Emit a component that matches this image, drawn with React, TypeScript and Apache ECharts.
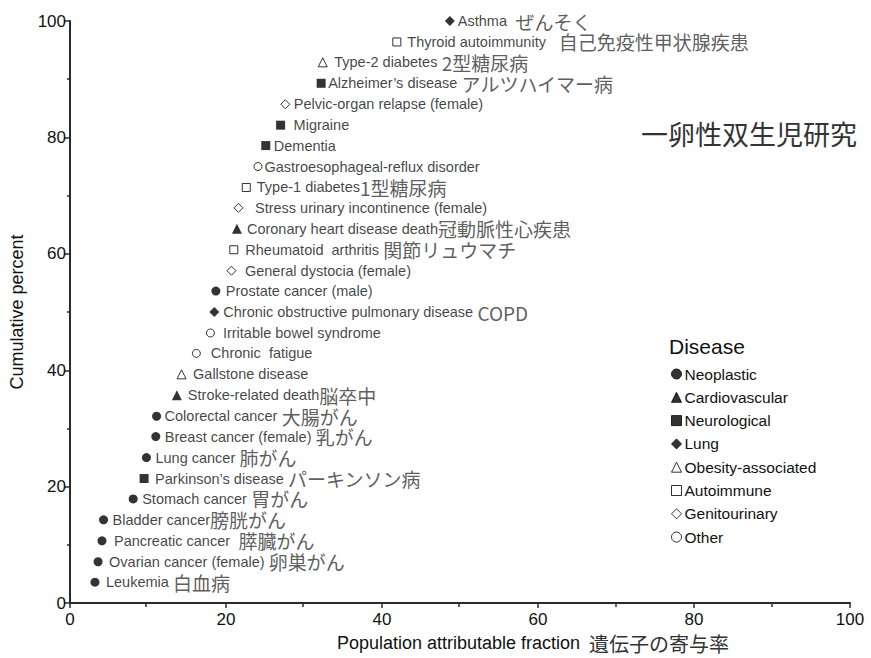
import React, { useEffect, useRef } from 'react';
import * as echarts from 'echarts';

// ---- Data ----
const groupNames = [
  'Neoplastic',
  'Cardiovascular',
  'Neurological',
  'Lung',
  'Obesity-associated',
  'Autoimmune',
  'Genitourinary',
  'Other',
];

const diseaseNames = [
  'Leukemia',
  'Ovarian cancer (female)',
  'Pancreatic cancer',
  'Bladder cancer',
  'Stomach cancer',
  'Parkinson’s disease',
  'Lung cancer',
  'Breast cancer (female)',
  'Colorectal cancer',
  'Stroke-related death',
  'Gallstone disease',
  'Chronic  fatigue',
  'Irritable bowel syndrome',
  'Chronic obstructive pulmonary disease',
  'Prostate cancer (male)',
  'General dystocia (female)',
  'Rheumatoid  arthritis',
  'Coronary heart disease death',
  'Stress urinary incontinence (female)',
  'Type-1 diabetes',
  'Gastroesophageal-reflux disorder',
  'Dementia',
  'Migraine',
  'Pelvic-organ relapse (female)',
  'Alzheimer’s disease',
  'Type-2 diabetes',
  'Thyroid autoimmunity',
  'Asthma',
];

const diseaseNamesJa = [
  ' 白血病',
  ' 卵巣がん',
  '  膵臓がん',
  '膀胱がん',
  ' 胃がん',
  ' パーキンソン病',
  ' 肺がん',
  ' 乳がん',
  ' 大腸がん',
  '脳卒中',
  '',
  '',
  '',
  ' COPD',
  '',
  '',
  ' 関節リュウマチ',
  '冠動脈性心疾患',
  '',
  '1型糖尿病',
  '',
  '',
  '',
  '',
  ' アルツハイマー病',
  ' 2型糖尿病',
  '   自己免疫性甲状腺疾患',
  '  ぜんそく',
];

// Population attributable fraction (%)
const attributableFraction = [
  3.2, 3.6, 4.1, 4.3, 8.1, 9.5, 9.8, 11.0, 11.1, 13.7,
  14.3, 16.2, 18.0, 18.5, 18.7, 20.7, 21.0, 21.4, 21.6, 22.6,
  24.1, 25.1, 27.0, 27.6, 32.2, 32.4, 41.9, 48.7,
];

// Cumulative percent (%)
const cumulativePercent = [
  3.6, 7.1, 10.7, 14.3, 17.9, 21.4, 25.0, 28.6, 32.1, 35.7,
  39.3, 42.9, 46.4, 50.0, 53.6, 57.1, 60.7, 64.3, 67.9, 71.4,
  75.0, 78.6, 82.1, 85.7, 89.3, 92.9, 96.4, 100.0,
];

// index into groupNames
const diseaseGroup = [
  0, 0, 0, 0, 0, 2, 0, 0, 0, 1,
  4, 7, 7, 3, 0, 6, 5, 1, 6, 5,
  7, 2, 2, 6, 2, 4, 5, 3,
];

const xTickInterval = 20;
const yTickInterval = 20;

// ---- Styles ----
const groupSymbols = ['circle', 'triangle', 'rect', 'diamond', 'triangle', 'rect', 'diamond', 'circle'];
const groupHollow = [false, false, false, false, true, true, true, true];
const groupSymbolSizes = [9, 10, 9, 10, 9, 8, 9, 8];
// distance (px) from marker centre to label start
const labelGapPx = [
  11, 11, 12, 9, 9, 11, 9, 9, 8, 11,
  11, 14, 12, 9, 10, 13, 11, 10, 16, 10,
  6, 8, 13, 8, 7, 11, 10, 8,
];

const EN_FONT = '"Liberation Sans", Arial, Helvetica, sans-serif';
const JA_FONT = '"Noto Sans CJK JP", "Noto Sans", sans-serif';
const AXIS_COLOR = '#2a2a2a';
const TEXT_COLOR = '#111';
const JA_COLOR = '#333';

export default function App() {
  const ref = useRef<HTMLDivElement>(null);

  useEffect(() => {
    document.body.style.margin = '0';
    if (!ref.current) return;
    const chart = echarts.init(ref.current, undefined, { renderer: 'svg' });

    const richLabel = {
      en: { fontSize: 14.5, fontFamily: EN_FONT, color: TEXT_COLOR, lineHeight: 17 },
      ja: { fontSize: 19, fontFamily: JA_FONT, color: JA_COLOR, lineHeight: 17 },
    };

    const series = groupNames.map((g, gi) => {
      const data = diseaseNames
        .map((name, i) => ({ name, i }))
        .filter((d) => diseaseGroup[d.i] === gi)
        .map((d) => ({
          name: d.name,
          value: [attributableFraction[d.i], cumulativePercent[d.i]],
          label: { distance: labelGapPx[d.i] - groupSymbolSizes[gi] / 2 },
        }));
      const hollow = groupHollow[gi];
      return {
        type: 'scatter',
        name: g,
        xAxisIndex: 0,
        yAxisIndex: 0,
        symbol: groupSymbols[gi],
        symbolSize: groupSymbolSizes[gi],
        itemStyle: hollow
          ? { color: '#fff', borderColor: '#000', borderWidth: 1 }
          : { color: '#000', borderColor: '#000', borderWidth: 0 },
        label: {
          show: true,
          position: 'right',
          lineHeight: 17,
          formatter: (p: any) => {
            const idx = diseaseNames.indexOf(p.name);
            const ja = diseaseNamesJa[idx];
            return `{en|${diseaseNames[idx]}}` + (ja ? `{ja|${ja}}` : '');
          },
          rich: richLabel,
        },
        emphasis: { disabled: true },
        data,
      };
    });

    const option: any = {
      animation: false,
      backgroundColor: '#fff',
      title: [
        {
          text: '一卵性双生児研究',
          left: 641,
          top: 120,
          padding: 0,
          textStyle: { fontSize: 27, fontFamily: JA_FONT, fontWeight: 'normal', color: JA_COLOR },
        },
        {
          text: 'Disease',
          left: 669,
          top: 336,
          padding: 0,
          textStyle: { fontSize: 21, fontFamily: EN_FONT, fontWeight: 'normal', color: TEXT_COLOR },
        },
      ],
      legend: {
        orient: 'vertical',
        left: 671,
        top: 366,
        padding: 0,
        itemWidth: 10,
        itemHeight: 10,
        itemGap: 7.3,
        selectedMode: false,
        itemStyle: { borderWidth: 1, borderColor: '#000' },
        textStyle: { fontSize: 15.5, fontFamily: EN_FONT, color: TEXT_COLOR, lineHeight: 16, padding: [0, 0, 0, -2] },
        data: groupNames,
      },
      grid: [
        { left: 68, right: 21, top: 21, bottom: 51 },
        { left: 68, right: 21, top: 21, bottom: 51 },
      ],
      xAxis: [
        {
          gridIndex: 0,
          type: 'value',
          min: 0,
          max: 100,
          interval: xTickInterval,
          axisLine: { show: true, lineStyle: { color: AXIS_COLOR, width: 2 } },
          axisTick: { show: true, inside: false, length: 5, lineStyle: { color: AXIS_COLOR, width: 1.5 } },
          axisLabel: { fontSize: 17, fontFamily: EN_FONT, color: TEXT_COLOR, margin: 8 },
          splitLine: { show: false },
          name: '{en|Population attributable fraction}{ja|  遺伝子の寄与率}',
          nameLocation: 'middle',
          nameGap: 29,
          nameTextStyle: {
            padding: [0, 0, 0, 146],
            rich: {
              en: { fontSize: 18, fontFamily: EN_FONT, color: TEXT_COLOR },
              ja: { fontSize: 20, fontFamily: JA_FONT, color: JA_COLOR },
            },
          },
        },
        {
          gridIndex: 1,
          type: 'value',
          min: 0,
          max: 100,
          interval: xTickInterval,
          axisLine: { show: false },
          axisTick: { show: false, inside: true },
          minorTick: { show: true, splitNumber: 2, length: 5, lineStyle: { color: AXIS_COLOR, width: 1.5 } },
          axisLabel: { show: false },
          splitLine: { show: false },
          minorSplitLine: { show: false },
        },
      ],
      yAxis: [
        {
          gridIndex: 0,
          type: 'value',
          min: 0,
          max: 100,
          interval: yTickInterval,
          axisLine: { show: true, lineStyle: { color: AXIS_COLOR, width: 2 } },
          axisTick: { show: true, inside: false, length: 6, lineStyle: { color: AXIS_COLOR, width: 1.5 } },
          minorTick: { show: true, splitNumber: 2, length: 3, lineStyle: { color: AXIS_COLOR, width: 1.5 } },
          axisLabel: { fontSize: 17, fontFamily: EN_FONT, color: TEXT_COLOR, margin: 4 },
          splitLine: { show: false },
          name: 'Cumulative percent',
          nameLocation: 'middle',
          nameGap: 44,
          nameTextStyle: { fontSize: 18, fontFamily: EN_FONT, color: TEXT_COLOR },
        },
        {
          gridIndex: 1,
          type: 'value',
          min: 0,
          max: 100,
          show: false,
        },
      ],
      series,
    };

    chart.setOption(option);
    return () => chart.dispose();
  }, []);

  return <div ref={ref} style={{ width: 871, height: 658 }} />;
}
